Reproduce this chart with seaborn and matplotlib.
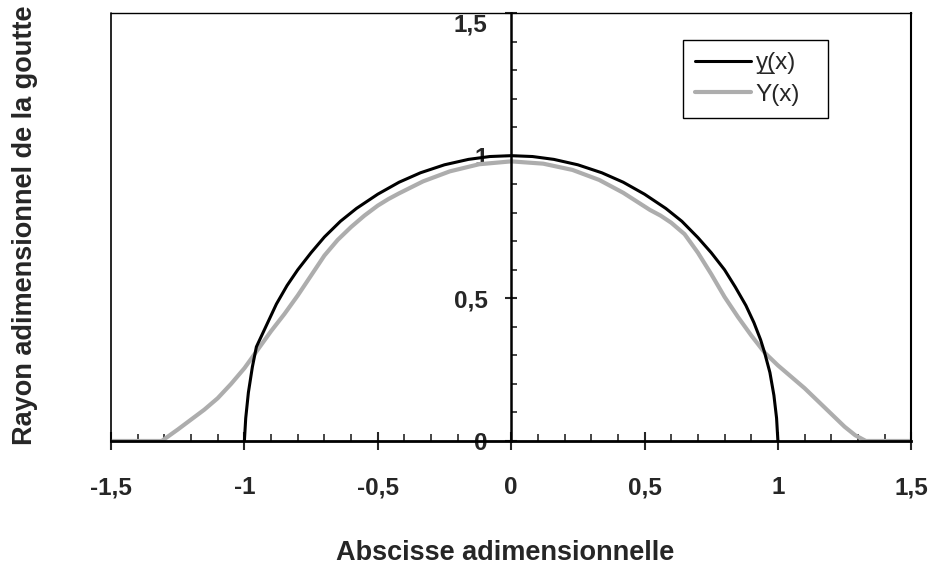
import pandas as pd
import seaborn as sns
from matplotlib import pyplot as plt
from matplotlib.ticker import MultipleLocator

# y(x): black curve
bx = [-1.00, -0.995, -0.985, -0.97, -0.955, -0.935, -0.91, -0.88, -0.84, -0.80,
      -0.75, -0.70, -0.64, -0.58, -0.50, -0.42, -0.34, -0.25, -0.16, -0.08,
      0.00, 0.08, 0.16, 0.25, 0.34, 0.42, 0.50, 0.58, 0.64, 0.70,
      0.75, 0.80, 0.84, 0.88, 0.91, 0.935, 0.95, 0.97, 0.985, 0.995, 1.00]
by = [0.0, 0.08, 0.17, 0.26, 0.33, 0.37, 0.42, 0.48, 0.545, 0.60,
      0.66, 0.715, 0.77, 0.815, 0.865, 0.907, 0.94, 0.968, 0.987, 0.997,
      1.0, 0.997, 0.987, 0.968, 0.94, 0.907, 0.865, 0.815, 0.77, 0.713,
      0.66, 0.60, 0.54, 0.475, 0.415, 0.355, 0.31, 0.24, 0.16, 0.08, 0.0]

# Y(x): grey curve
gx = [-1.50, -1.40, -1.31, -1.25, -1.20, -1.15, -1.10, -1.05, -1.00, -0.95,
      -0.90, -0.85, -0.80, -0.75, -0.70, -0.65, -0.60, -0.55, -0.50, -0.46,
      -0.42, -0.33, -0.23, -0.12, 0.00, 0.12, 0.23, 0.33, 0.42, 0.52,
      0.56, 0.60, 0.65, 0.70, 0.75, 0.80, 0.85, 0.90, 0.95, 1.00,
      1.05, 1.10, 1.15, 1.20, 1.25, 1.29, 1.33, 1.40, 1.50]
gy = [0.0, 0.0, 0.0, 0.04, 0.075, 0.11, 0.15, 0.20, 0.255, 0.32,
      0.385, 0.445, 0.51, 0.58, 0.65, 0.705, 0.75, 0.79, 0.825, 0.848,
      0.868, 0.91, 0.945, 0.97, 0.98, 0.972, 0.95, 0.915, 0.87, 0.81,
      0.79, 0.765, 0.725, 0.66, 0.585, 0.505, 0.435, 0.37, 0.31, 0.265,
      0.225, 0.185, 0.14, 0.095, 0.05, 0.02, 0.0, 0.0, 0.0]

xticks = [-1.5, -1, -0.5, 0, 0.5, 1, 1.5]
yticks = [0, 0.5, 1, 1.5]
xlim = (-1.5, 1.5)
ylim = (0, 1.5)


def comma(v):
    return f"{v:g}".replace(".", ",")


sns.set_theme(style="white")
plt.rcParams["font.family"] = ["Liberation Sans", "DejaVu Sans"]

fig = plt.figure(figsize=(9.36, 5.68), dpi=100)
ax = fig.add_axes([0.1186, 0.2236, 0.855, 0.7535])

sns.lineplot(x=gx, y=gy, ax=ax, color="#adadad", lw=3, sort=False,
             estimator=None, label="Y(x)")
sns.lineplot(x=bx, y=by, ax=ax, color="black", lw=2.2, sort=False,
             estimator=None, label="y\u0332(x)")

ax.set_xlim(*xlim)
ax.set_ylim(*ylim)
ax.grid(False)
ax.set_xlabel("")
ax.set_ylabel("")

# y axis sits on x = 0, box drawn around
ax.spines["left"].set_position(("data", 0))
ax.spines["left"].set_linewidth(1.8)
ax.spines["bottom"].set_linewidth(2)
ax.spines["top"].set_linewidth(1)
ax.spines["right"].set_linewidth(1.5)
for s in ax.spines.values():
    s.set_color("black")
ax.axvline(-1.5, color="black", lw=1.2, clip_on=False)

ax.set_xticks(xticks, [comma(v) for v in xticks])
ax.set_yticks(yticks, [comma(v) for v in yticks])
ax.xaxis.set_minor_locator(MultipleLocator(0.1))
ax.yaxis.set_minor_locator(MultipleLocator(0.1))

ax.tick_params(axis="x", which="major", direction="inout", length=13, width=1.5,
               pad=19, labelsize=17.5, bottom=True, top=False)
ax.tick_params(axis="x", which="minor", direction="in", length=5, width=1.2,
               bottom=True, top=False)
ax.tick_params(axis="y", which="major", direction="inout", length=8, width=1.5,
               pad=13, labelsize=17.5, left=True, right=False)
ax.tick_params(axis="y", which="minor", direction="in", length=4, width=1.2,
               left=True, right=False)
for t in ax.get_xticklabels() + ax.get_yticklabels():
    t.set_fontweight("bold")
ax.get_yticklabels()[-1].set_verticalalignment("top")

h, l = ax.get_legend_handles_labels()
leg = ax.legend(h[::-1], l[::-1], loc="lower left", mode="expand",
                bbox_to_anchor=(683 / 936, 1 - 118 / 568, 145 / 936, 77 / 568),
                bbox_transform=fig.transFigure, fontsize=17.5,
                handlelength=2.3, handletextpad=0.2, borderpad=0.5,
                labelspacing=0.4, fancybox=False, framealpha=1,
                edgecolor="black", borderaxespad=0)
leg.get_frame().set_linewidth(1)

fig.text(505 / 936, 1 - 553 / 568, "Abscisse adimensionnelle",
         ha="center", va="center", fontsize=19.5, fontweight="bold")
fig.text(25 / 936, 1 - 225 / 568, "Rayon adimensionnel de la goutte",
         ha="center", va="center", rotation=90, fontsize=19.5, fontweight="bold")

fig.savefig("out.png", dpi=100)
